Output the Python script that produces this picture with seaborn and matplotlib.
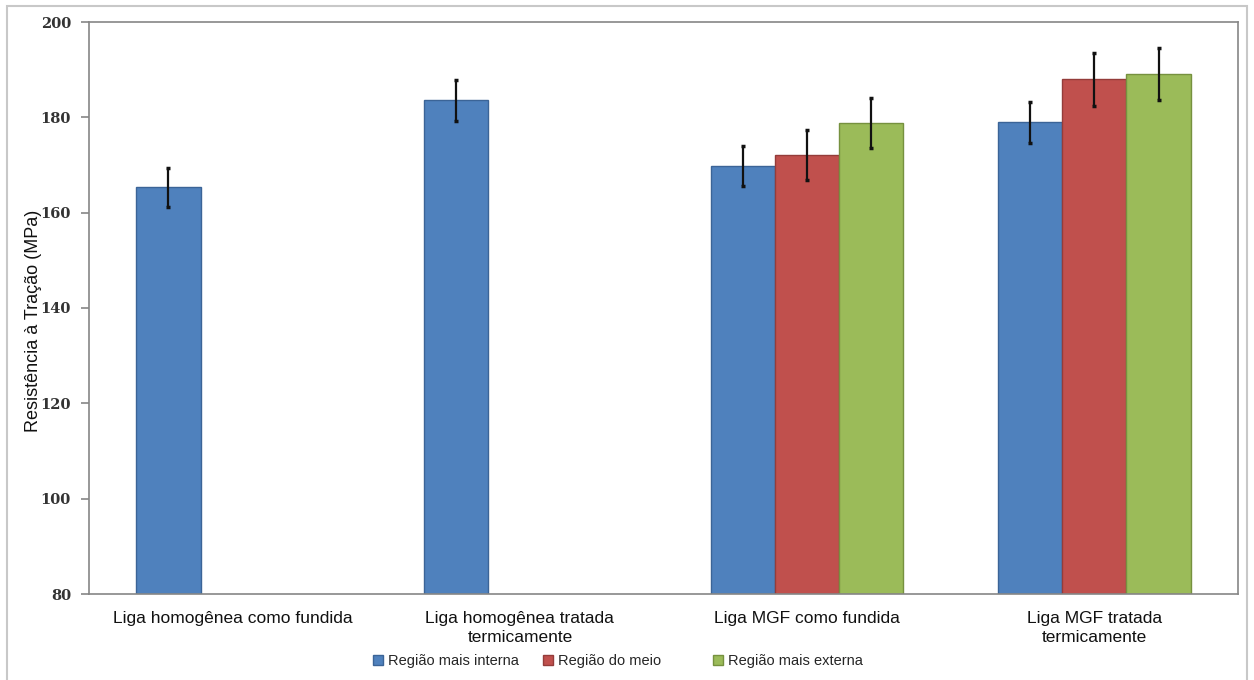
import numpy as np
import pandas as pd
import matplotlib
matplotlib.use("Agg")
import matplotlib.pyplot as plt
import seaborn as sns
from matplotlib.patches import Patch, Rectangle

# ---- data ----
categories = ["Liga homogênea como fundida",
              "Liga homogênea tratada\ntermicamente",
              "Liga MGF como fundida",
              "Liga MGF tratada\ntermicamente"]
series = ["Região mais interna", "Região do meio", "Região mais externa"]
interna = [165.3, 183.6, 169.8, 179.0]
interna_err = [4.1, 4.3, 4.2, 4.3]
meio = [np.nan, np.nan, 172.1, 188.0]
meio_err = [np.nan, np.nan, 5.2, 5.6]
externa = [np.nan, np.nan, 178.8, 189.1]
externa_err = [np.nan, np.nan, 5.2, 5.4]
y_ticks = [80, 100, 120, 140, 160, 180, 200]
y_label = "Resistência à Tração (MPa)"

colors = ["#4F81BD", "#C0504D", "#9BBB59"]
edges = ["#3B6497", "#943C3A", "#76913F"]

rows = []
for s, vals, errs in zip(series, [interna, meio, externa], [interna_err, meio_err, externa_err]):
    for c, v, e in zip(categories, vals, errs):
        if not np.isnan(v):
            rows.append({"cat": c, "serie": s, "val": v, "err": e})
df = pd.DataFrame(rows)

sns.set_theme(style="white")
plt.rcParams["font.family"] = ["Liberation Sans", "DejaVu Sans"]

fig = plt.figure(figsize=(12.54, 6.8), dpi=100)
ax = fig.add_axes([89 / 1254, 1 - 594 / 680, (1238 - 89) / 1254, (594 - 22) / 680])

sns.barplot(data=df, x="cat", y="val", hue="serie", order=categories,
            hue_order=series, palette=colors, width=0.67, saturation=1,
            errorbar=None, linewidth=1, legend=False, ax=ax)

for cont, s, ec in zip(ax.containers, series, edges):
    sub = df[df["serie"] == s]
    for bar, (_, r) in zip(cont, sub.iterrows()):
        bar.set_edgecolor(ec)
        xc = bar.get_x() + bar.get_width() / 2
        ax.errorbar(xc, bar.get_height(), yerr=r["err"], fmt="none",
                    ecolor="#111111", elinewidth=1.6, capsize=1.6, capthick=2.5,
                    zorder=5)

ax.set_ylim(80, 200)
ax.set_xlim(-0.5, 3.5)
ax.set_yticks(y_ticks)
ax.set_yticklabels([str(t) for t in y_ticks], fontfamily="DejaVu Serif",
                   fontweight="bold", fontsize=10.5, color="#333333")
ax.set_xticks(range(len(categories)))
ax.set_xticklabels(categories, fontsize=12.5, color="#111111", linespacing=1.35)
ax.set_xticks([-0.5, 0.5, 1.5, 2.5, 3.5], minor=True)
ax.tick_params(axis="x", which="major", length=0, pad=12)
ax.tick_params(axis="x", which="minor", length=6, width=1.2, color="#868686", direction="out")
ax.tick_params(axis="y", which="major", length=6, width=1.2, color="#868686",
               direction="out", left=True, pad=7)
ax.set_xlabel("")
ax.set_ylabel(y_label, fontsize=13, color="#111111")
ax.yaxis.set_label_coords(-0.041, 0.477)
for sp in ax.spines.values():
    sp.set_visible(True)
    sp.set_color("#868686")
    sp.set_linewidth(1.2)

legend_x = [373, 543, 713]
for c, e, s, xp in zip(colors, edges, series, legend_x):
    leg = fig.legend(handles=[Patch(facecolor=c, edgecolor=e, label=s)],
                     loc="center left", bbox_to_anchor=(xp / 1254, 1 - 661 / 680),
                     frameon=False, fontsize=10.5, handlelength=0.7, handleheight=0.7,
                     handletextpad=0.35, borderpad=0, borderaxespad=0)

fig.patches.append(Rectangle((7 / 1254, -0.01), (1247 - 7) / 1254, 1.01 - 6 / 680,
                             transform=fig.transFigure, fill=False,
                             edgecolor="#C8C8C8", linewidth=1.5))

fig.savefig("out.png", dpi=100)
